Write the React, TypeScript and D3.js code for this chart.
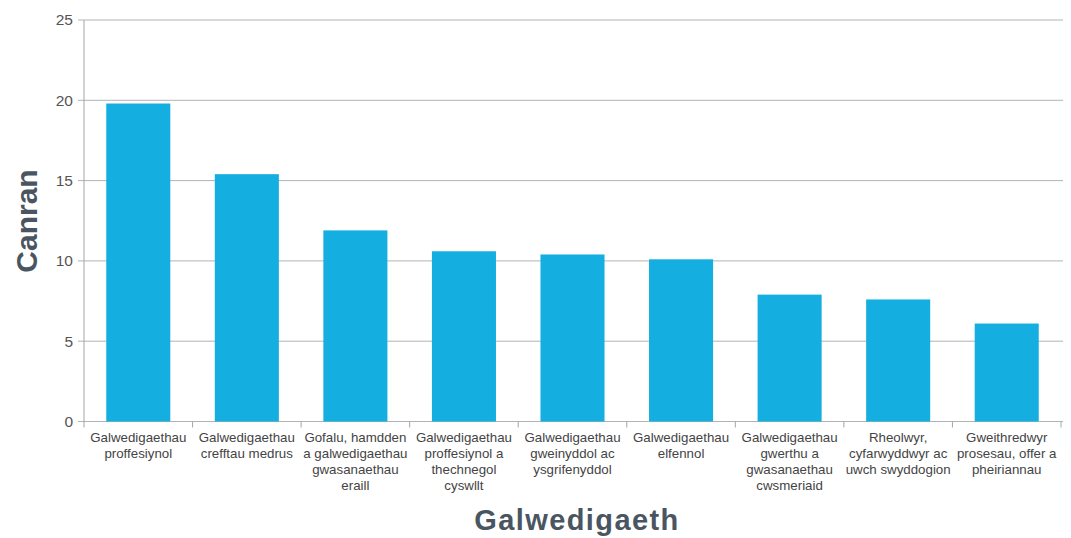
import React from "react";
import * as d3 from "d3";

const categories: string[][] = [
  ["Galwedigaethau", "proffesiynol"],
  ["Galwedigaethau", "crefftau medrus"],
  ["Gofalu, hamdden", "a galwedigaethau", "gwasanaethau", "eraill"],
  ["Galwedigaethau", "proffesiynol a", "thechnegol", "cyswllt"],
  ["Galwedigaethau", "gweinyddol ac", "ysgrifenyddol"],
  ["Galwedigaethau", "elfennol"],
  ["Galwedigaethau", "gwerthu a", "gwasanaethau", "cwsmeriaid"],
  ["Rheolwyr,", "cyfarwyddwyr ac", "uwch swyddogion"],
  ["Gweithredwyr", "prosesau, offer a", "pheiriannau"],
];
const values: number[] = [19.8, 15.4, 11.9, 10.6, 10.4, 10.1, 7.9, 7.6, 6.1];
const yTicks: number[] = [0, 5, 10, 15, 20, 25];
const xTitle = "Galwedigaeth";
const yTitle = "Canran";

const W = 1071;
const H = 538;
const left = 84;
const right = 1061;
const top = 20;
const bottom = 421.5;

export default function App() {
  const ids = categories.map((_, i) => String(i));
  const x = d3.scaleBand<string>().domain(ids).range([left, right]).paddingInner(0.41).paddingOuter(0.205);
  const y = d3.scaleLinear().domain([0, 25]).range([bottom, top]);
  const font = "'Liberation Sans', Arial, sans-serif";
  const band = (right - left) / categories.length;

  return (
    <svg width={W} height={H} style={{ position: "absolute", left: 0, top: 0, background: "#fff" }}>
      {yTicks.map((t) => (
        <g key={t}>
          <line x1={left - 6} x2={right + 2} y1={y(t)} y2={y(t)} stroke="#b3b3b3" strokeWidth={1} />
          <text x={73} y={y(t)} dy="0.35em" textAnchor="end" fontFamily={font} fontSize={15.5} fill="#555">
            {t}
          </text>
        </g>
      ))}
      <line x1={left} x2={left} y1={top} y2={bottom} stroke="#a6a6a6" strokeWidth={1} />
      {d3.range(categories.length + 1).map((i) => (
        <line key={i} x1={left + i * band} x2={left + i * band} y1={bottom} y2={bottom + 6} stroke="#a6a6a6" />
      ))}
      {values.map((v, i) => (
        <rect key={i} x={x(ids[i])} y={y(v)} width={x.bandwidth()} height={y(0) - y(v)} fill="#14afe0" />
      ))}
      {categories.map((lines, i) => (
        <text key={i} textAnchor="middle" fontFamily={font} fontSize={13.3} fill="#444">
          {lines.map((l, j) => (
            <tspan key={j} x={(x(ids[i]) as number) + x.bandwidth() / 2} y={442 + j * 16}>
              {l}
            </tspan>
          ))}
        </text>
      ))}
      <text x={577} y={530} textAnchor="middle" fontFamily={font} fontSize={29} fontWeight="bold" letterSpacing={1.4} fill="#4a5562">
        {xTitle}
      </text>
      <text
        transform={`translate(37,221) rotate(-90)`}
        textAnchor="middle"
        fontFamily={font}
        fontSize={30}
        fontWeight="bold"
        fill="#4a5562"
      >
        {yTitle}
      </text>
    </svg>
  );
}
